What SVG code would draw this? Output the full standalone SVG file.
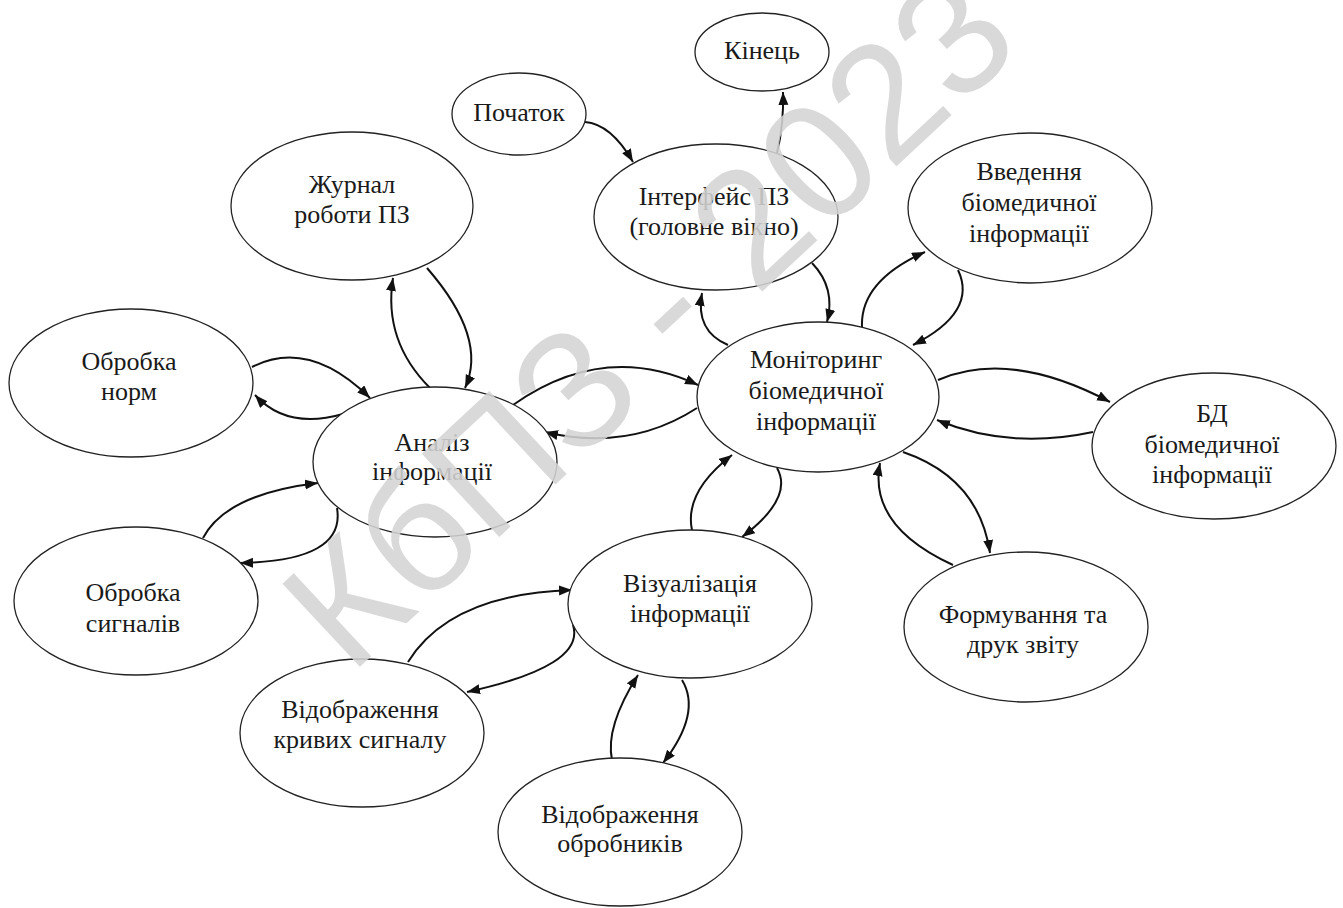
<svg xmlns="http://www.w3.org/2000/svg" width="1343" height="908" viewBox="0 0 1343 908">
<defs>
<marker id="ah" markerUnits="userSpaceOnUse" markerWidth="15" markerHeight="11" refX="13" refY="5" orient="auto">
<path d="M0,0 L13,5 L0,10 z" fill="#111"/>
</marker>
<style>
.n ellipse{fill:#fff;stroke:#222;stroke-width:1.3}
.n text{font-family:"Liberation Serif","Times New Roman",serif;font-size:26px;fill:#1a1a1a;text-anchor:middle}
#edges path{fill:none;stroke:#111;stroke-width:2;marker-end:url(#ah)}
.wm{font-family:"Liberation Sans",Arial,sans-serif;font-size:165px;fill:#d4d4d4;fill-opacity:0.88}
</style>
</defs>
<rect width="1343" height="908" fill="#fff"/>
<g id="edges">
<path d="M585,122 Q611,124 633,162"/>
<path d="M777,153 Q784,124 783,92"/>
<path d="M812,263 Q836,288 827,322"/>
<path d="M728,345 Q695,331 702,293"/>
<path d="M862,327 Q860,281 925,252"/>
<path d="M958,270 Q978,312 913,345"/>
<path d="M938,380 Q1010,349 1110,402"/>
<path d="M1093,432 Q1009,450 937,420"/>
<path d="M903,452 Q979,478 990,553"/>
<path d="M953,565 Q868,526 880,463"/>
<path d="M777,468 Q794,498 742,537"/>
<path d="M692,530 Q684,492 732,455"/>
<path d="M513,405 Q604,341 698,385"/>
<path d="M697,408 Q629,452 545,432"/>
<path d="M427,268 Q488,338 465,388"/>
<path d="M430,388 Q383,341 393,278"/>
<path d="M252,367 Q309,338 370,398"/>
<path d="M343,414 Q287,430 255,395"/>
<path d="M203,538 Q226,494 318,483"/>
<path d="M337,508 Q346,561 240,563"/>
<path d="M408,662 Q450,594 572,590"/>
<path d="M573,625 Q586,666 467,692"/>
<path d="M612,760 Q605,727 638,675"/>
<path d="M682,680 Q702,713 663,763"/>
</g>
<g id="n-kinets" class="n"><ellipse cx="762" cy="52" rx="67" ry="39"/><text x="762" y="59">Кінець</text></g>
<g id="n-pochatok" class="n"><ellipse cx="519" cy="114" rx="67" ry="41"/><text x="519" y="121">Початок</text></g>
<g id="n-interfeis" class="n"><ellipse cx="716" cy="217" rx="122" ry="73"/><text x="714" y="205">Інтерфейс ПЗ</text><text x="714" y="235">(головне вікно)</text></g>
<g id="n-zhurnal" class="n"><ellipse cx="352" cy="206" rx="121" ry="74"/><text x="352" y="193">Журнал</text><text x="352" y="223">роботи ПЗ</text></g>
<g id="n-normy" class="n"><ellipse cx="131" cy="383" rx="122" ry="74"/><text x="129" y="370">Обробка</text><text x="129" y="400">норм</text></g>
<g id="n-analiz" class="n"><ellipse cx="435" cy="462" rx="122" ry="75"/><text x="432" y="451">Аналіз</text><text x="432" y="480">інформації</text></g>
<g id="n-monitoring" class="n"><ellipse cx="818" cy="397" rx="121" ry="75"/><text x="816" y="368">Моніторинг</text><text x="816" y="399">біомедичної</text><text x="816" y="430">інформації</text></g>
<g id="n-vvedennia" class="n"><ellipse cx="1030" cy="208" rx="122" ry="75"/><text x="1029" y="180">Введення</text><text x="1029" y="211">біомедичної</text><text x="1029" y="242">інформації</text></g>
<g id="n-bd" class="n"><ellipse cx="1214" cy="446" rx="122" ry="73"/><text x="1212" y="422">БД</text><text x="1212" y="453">біомедичної</text><text x="1212" y="483">інформації</text></g>
<g id="n-zvit" class="n"><ellipse cx="1026" cy="627" rx="122" ry="75"/><text x="1023" y="623">Формування та</text><text x="1023" y="653">друк звіту</text></g>
<g id="n-syhnaly" class="n"><ellipse cx="136" cy="601" rx="122" ry="74"/><text x="133" y="601">Обробка</text><text x="133" y="632">сигналів</text></g>
<g id="n-vizualizatsiia" class="n"><ellipse cx="690" cy="604" rx="122" ry="74"/><text x="690" y="592">Візуалізація</text><text x="690" y="622">інформації</text></g>
<g id="n-kryvi" class="n"><ellipse cx="362" cy="733" rx="122" ry="74"/><text x="360" y="718">Відображення</text><text x="360" y="748">кривих сигналу</text></g>
<g id="n-obrobnyky" class="n"><ellipse cx="620" cy="832" rx="122" ry="74"/><text x="620" y="823">Відображення</text><text x="620" y="852">обробників</text></g>
<text class="wm" transform="translate(350,676) rotate(-43)">КбПЗ - 2023</text>
</svg>
